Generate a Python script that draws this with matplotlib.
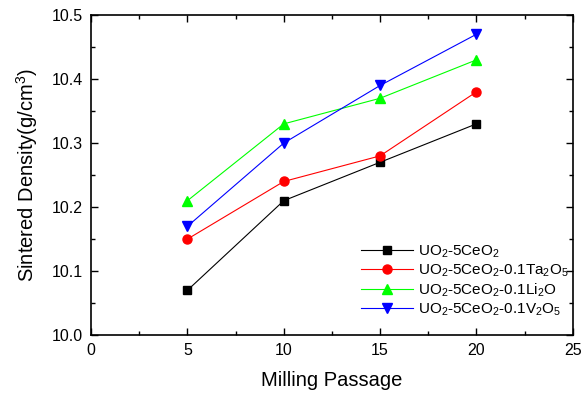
import matplotlib
matplotlib.use("Agg")
import matplotlib.pyplot as plt
from matplotlib.ticker import MultipleLocator

plt.rcParams['font.family'] = ['Liberation Sans', 'DejaVu Sans']
plt.rcParams['mathtext.fontset'] = 'custom'
plt.rcParams['mathtext.rm'] = 'Liberation Sans'
plt.rcParams['mathtext.it'] = 'Liberation Sans'

x = [5, 10, 15, 20]
ceo2 = [10.07, 10.21, 10.27, 10.33]
ta2o5 = [10.15, 10.24, 10.28, 10.38]
li2o = [10.21, 10.33, 10.37, 10.43]
v2o5 = [10.17, 10.30, 10.39, 10.47]
labels = [r'UO$_2$-5CeO$_2$', r'UO$_2$-5CeO$_2$-0.1Ta$_2$O$_5$',
          r'UO$_2$-5CeO$_2$-0.1Li$_2$O', r'UO$_2$-5CeO$_2$-0.1V$_2$O$_5$']

fig = plt.figure(figsize=(5.88, 3.97), dpi=100)
ax = fig.add_axes([0.155, 0.156, 0.819, 0.806])

ax.plot(x, ceo2, color='black', marker='s', ms=6, lw=0.8, label=labels[0])
ax.plot(x, ta2o5, color='red', marker='o', ms=6.5, lw=0.8, label=labels[1])
ax.plot(x, li2o, color='#00ff00', marker='^', ms=7.5, lw=0.8, label=labels[2])
ax.plot(x, v2o5, color='blue', marker='v', ms=7.5, lw=0.8, label=labels[3])

ax.set_xlim(0, 25)
ax.set_ylim(10.0, 10.5)
ax.xaxis.set_major_locator(MultipleLocator(5))
ax.xaxis.set_minor_locator(MultipleLocator(2.5))
ax.yaxis.set_major_locator(MultipleLocator(0.1))
ax.yaxis.set_minor_locator(MultipleLocator(0.05))
ax.yaxis.set_major_formatter(matplotlib.ticker.FormatStrFormatter('%.1f'))
ax.tick_params(which='both', direction='in', top=True, right=True, labelsize=11.5)
ax.tick_params(which='major', length=5, width=1, pad=6)
ax.tick_params(which='minor', length=3, width=1)
for s in ax.spines.values():
    s.set_linewidth(1.2)

ax.set_xlabel('Milling Passage', fontsize=14.5, labelpad=9)
ax.set_ylabel(r'Sintered Density(g/cm$^3$)', fontsize=14.5, labelpad=8)

ax.legend(loc='lower right', bbox_to_anchor=(1.02, 0.01), frameon=False, fontsize=11,
          handlelength=3.4, labelspacing=0.18, handletextpad=0.3)

fig.savefig('out.png', dpi=100)
